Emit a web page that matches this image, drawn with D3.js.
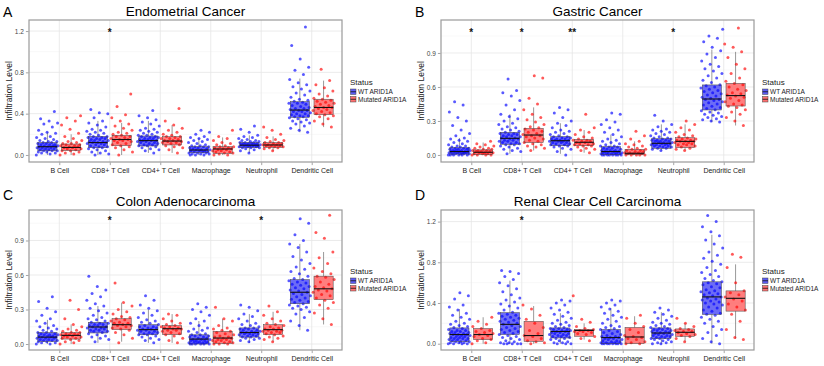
<!DOCTYPE html>
<html>
<head>
<meta charset="utf-8">
<script src="https://cdn.jsdelivr.net/npm/d3@7"></script>
<style>
  body { margin: 0; background: #fff; }
  svg { display: block; font-family: "Liberation Sans", Arial, Helvetica, sans-serif; }
</style>
</head>
<body>
<div id="chart"></div>
<script>
// cell types on the x axis
const cellTypes = ["B Cell", "CD8+ T Cell", "CD4+ T Cell", "Macrophage", "Neutrophil", "Dendritic Cell"];
const statusLabels = ["WT ARID1A", "Mutated ARID1A"];

// tick values
const ticks04 = [0, 0.4, 0.8, 1.2];
const minor04 = [0.2, 0.6, 1.0];
const ticks03 = [0, 0.3, 0.6, 0.9];
const minor03 = [0.15, 0.45, 0.75, 1.05];

// point values (hundredths), one array per cell type
// --- Endometrial Cancer
const endoWT = [
  [0,1,2,2,3,3,4,4,4,5,5,6,6,7,7,7,8,8,8,9,9,9,10,10,10,11,11,12,12,13,13,14,15,16,17,18,20,21,22,24,27,30,31,33,35,42],
  [0,1,2,3,4,5,6,7,7,8,8,9,10,10,11,11,12,12,12,13,13,14,14,15,15,16,16,17,17,18,18,19,20,21,22,23,24,25,27,29,31,33,36,40,41,44],
  [2,4,5,6,7,8,9,9,10,10,11,11,12,12,13,13,14,14,14,15,15,16,16,17,17,18,18,19,19,20,21,22,23,24,25,26,28,30,32,34,36,38,43],
  [0,0,0,1,1,1,2,2,2,3,3,3,4,4,4,5,5,5,6,6,7,7,8,8,8,9,9,10,11,12,13,14,15,16,17,18,20,22,24],
  [2,4,5,6,7,7,7,8,8,8,9,9,9,9,10,10,10,10,11,11,11,11,12,12,12,13,13,14,14,15,16,17,18,19,22,25,28],
  [22,24,26,28,30,31,32,33,34,35,36,37,37,38,38,39,40,40,41,42,42,43,43,44,45,45,46,47,48,49,50,50,51,52,53,54,56,58,60,62,64,66,68,70,73,78,82,85,93,106,124]
];
const endoMut = [
  [0,1,2,3,4,4,5,6,6,7,7,8,8,9,9,10,10,11,11,12,13,14,16,18,21,25,29,33,36,38],
  [0,3,5,7,8,9,10,11,12,13,14,14,15,15,16,17,18,18,19,20,21,22,24,26,28,30,33,36,39,47,59],
  [2,5,7,8,9,10,11,12,12,13,13,14,14,15,16,16,17,18,18,19,20,22,24,26,29,33,45],
  [0,0,1,2,2,3,3,4,4,5,5,6,6,7,7,8,8,9,10,11,12,14,16,18,24],
  [4,6,7,7,8,8,9,9,9,10,10,10,11,11,12,12,13,14,15,17,20,24,27],
  [27,30,33,35,37,38,39,40,41,42,43,44,45,46,46,47,48,49,50,51,52,53,54,55,57,59,62,65,68,72,83]
];
// box stats [lower whisker, q1, median, q3, upper whisker]
const endoWTBox = [[0,0.04,0.08,0.12,0.22],[0,0.07,0.12,0.18,0.33],[0.02,0.087,0.139,0.184,0.33],[0,0.023,0.048,0.08,0.165],[0.02,0.07,0.095,0.12,0.19],[0.22,0.365,0.435,0.516,0.74]];
const endoMutBox = [[0,0.042,0.073,0.106,0.2],[0,0.09,0.15,0.19,0.31],[0.02,0.097,0.135,0.177,0.29],[0,0.016,0.058,0.08,0.17],[0.04,0.074,0.097,0.12,0.18],[0.27,0.39,0.46,0.54,0.72]];
const endoStars = ["", "*", "", "", "", ""];

// --- Gastric Cancer
const gastWT = [
  [0,0,0,0,0,0,1,1,1,1,1,2,2,2,2,3,3,3,3,3,4,4,4,4,5,5,5,6,6,6,7,7,8,8,9,10,11,12,13,14,15,17,19,22,26,30,33,38,44,47],
  [1,3,4,5,6,7,8,9,9,10,10,11,11,12,12,13,13,14,14,15,15,16,16,17,17,18,18,19,19,20,21,22,23,24,25,27,28,30,32,34,36,40,44,48,52,55,57,67],
  [0,3,5,6,7,8,8,9,9,10,10,11,11,11,12,12,12,13,13,13,14,14,14,15,15,16,16,17,18,19,20,21,22,24,26,28,30,33,37,40,42],
  [0,0,0,0,0,0,0,0,1,1,1,1,1,2,2,2,2,3,3,3,4,4,4,5,5,6,6,7,7,8,8,9,10,11,12,13,14,16,18,20,22,24,27,29,31,36,37],
  [4,5,6,6,7,7,8,8,8,9,9,9,10,10,10,10,11,11,11,12,12,12,13,13,13,14,14,15,15,16,17,18,19,20,21,22,23,25,27,30,35],
  [29,30,31,32,33,34,35,36,37,38,39,40,41,42,43,44,45,46,47,48,49,49,50,51,52,53,54,55,56,57,58,59,60,61,62,64,66,68,70,72,74,76,78,80,83,86,89,92,95,100,103,105,111]
];
const gastMut = [
  [0,0,0,0,1,1,1,2,2,2,3,3,3,4,4,4,5,5,6,6,7,8,9,10,12],
  [4,6,7,8,9,10,11,12,13,14,15,16,17,17,18,19,20,21,22,23,24,25,27,29,31,33,36,40,45,50,68,70],
  [2,4,5,6,7,8,8,9,9,10,10,11,11,12,12,13,13,14,15,16,18,20,22,24,36],
  [0,0,0,0,0,1,1,1,2,2,2,3,3,4,4,5,5,6,7,8,9,10,12,14,17,21],
  [4,5,6,7,8,9,9,10,10,11,11,12,12,12,13,13,14,14,15,16,17,18,20,22,24,27,30],
  [26,30,33,36,38,40,42,43,44,45,47,48,50,51,52,53,54,55,57,58,60,62,63,65,68,72,76,80,86,91,95,98,112]
];
const gastWTBox = [[0,0.008,0.03,0.065,0.15],[0.01,0.094,0.147,0.2,0.36],[0.01,0.082,0.126,0.162,0.28],[0,0.003,0.03,0.074,0.18],[0.04,0.059,0.103,0.144,0.27],[0.29,0.397,0.494,0.618,0.93]];
const gastMutBox = [[0,0.003,0.024,0.045,0.11],[0.04,0.109,0.176,0.235,0.42],[0.02,0.082,0.112,0.138,0.22],[0,0.003,0.015,0.05,0.12],[0.04,0.065,0.12,0.153,0.27],[0.26,0.432,0.524,0.632,0.91]];
const gastStars = ["*", "*", "**", "", "*", ""];

// --- Colon Adenocarcinoma
const colWT = [
  [0,0,1,1,2,2,3,3,3,4,4,5,5,5,6,6,6,7,7,7,8,8,8,9,9,10,10,11,12,13,14,15,16,18,20,22,25,28,31,37,41],
  [2,4,5,6,7,8,9,10,11,11,12,12,13,13,14,14,15,15,16,16,17,17,18,18,19,20,21,22,23,25,27,29,31,33,35,38,41,44,47,50,59],
  [1,3,4,5,6,7,8,8,9,9,10,10,11,11,12,12,13,13,14,14,15,15,16,17,18,19,20,21,23,25,27,29,31,34,38,42],
  [0,0,0,0,0,0,1,1,1,1,2,2,2,3,3,3,4,4,4,5,5,6,6,7,7,8,8,9,10,11,12,13,14,16,18,20,22,25,28,30,32,35],
  [2,3,4,5,5,6,6,7,7,8,8,9,9,9,10,10,10,11,11,12,12,13,13,14,14,15,16,17,18,20,22,24,26,29,32,34],
  [12,16,20,23,26,28,30,31,32,33,34,35,36,37,38,39,40,41,42,43,44,45,46,47,48,49,50,51,52,53,54,55,56,57,59,61,63,65,67,70,73,76,80,84,87,90,95,105,109]
];
const colMut = [
  [0,1,2,3,4,5,5,6,6,7,7,8,8,8,9,9,10,10,11,12,13,15,17,22,30,38],
  [1,5,8,10,12,13,14,15,16,16,17,18,18,19,20,21,22,23,24,26,28,30,33,36,53],
  [1,3,5,7,8,9,10,11,12,12,13,13,14,14,15,15,16,17,18,20,22,25,26],
  [0,0,0,1,1,2,2,3,3,4,4,5,5,6,6,7,8,9,10,11,12,13,14,16,20,22,32],
  [2,4,5,6,7,8,9,10,10,11,11,12,12,13,13,14,15,16,17,18,20,22,25,28,33],
  [17,22,27,31,34,36,38,40,42,43,45,46,47,48,49,50,52,54,56,58,59,61,63,66,70,75,80,92,97,112]
];
const colWTBox = [[0,0.023,0.06,0.1,0.21],[0.01,0.096,0.148,0.188,0.33],[0.01,0.081,0.125,0.168,0.3],[0,0,0.043,0.08,0.2],[0.01,0.06,0.1,0.14,0.26],[0.12,0.35,0.45,0.56,0.87]];
const colMutBox = [[0,0.043,0.075,0.1,0.17],[0.02,0.125,0.168,0.22,0.36],[0.01,0.081,0.133,0.16,0.26],[0,0.005,0.052,0.11,0.22],[0.02,0.081,0.125,0.168,0.28],[0.17,0.385,0.48,0.59,0.8]];
const colStars = ["", "*", "", "", "*", ""];

// --- Renal Clear Cell Carcinoma
const renWT = [
  [0,0,0,0,1,1,1,2,2,2,3,3,4,4,5,5,5,6,6,7,7,8,8,9,9,9,10,10,11,11,12,12,13,13,14,15,16,17,18,19,20,22,24,26,28,30,33,36,38,44,47,50],
  [0,0,0,0,0,1,1,2,3,4,5,6,7,8,9,10,11,12,13,14,15,16,17,18,19,20,21,22,23,24,25,26,27,28,29,30,31,33,35,37,39,41,43,45,48,51,54,57,60,63,66,69,71,72],
  [0,0,0,1,1,2,3,4,5,5,6,7,7,8,8,9,9,10,10,11,11,12,12,13,13,14,14,15,15,16,17,18,19,20,21,23,25,27,29,31,33,35,38,40,42,43],
  [0,0,0,0,0,0,0,0,1,1,1,2,2,3,3,4,4,5,5,6,6,7,7,8,9,10,11,12,13,14,15,16,17,18,20,22,24,26,28,30,32,34,36,38,40,42,43],
  [0,0,1,1,2,3,4,4,5,5,6,6,7,7,8,8,9,9,10,10,11,11,12,12,13,13,14,14,15,15,16,17,18,19,20,21,23,25,27,29,31,33,35],
  [0,2,5,8,11,14,17,20,22,24,26,28,29,30,32,33,35,36,38,39,40,41,42,43,44,45,46,47,48,49,50,51,52,53,55,56,58,59,60,61,62,64,66,68,70,72,75,78,81,84,87,90,94,98,102,106,110,115,120,126]
];
const renMut = [
  [0,1,3,4,5,7,8,9,10,11,12,13,15,17,19,22,26],
  [0,1,2,3,5,7,8,10,13,16,20,24,28,34,38],
  [3,5,7,9,10,11,12,12,13,13,14,15,17,21,24,47],
  [0,0,1,2,4,5,6,7,8,11,14,17,20,25,28],
  [2,5,7,8,9,10,11,12,12,13,14,15,17,20,25],
  [4,6,14,22,29,33,36,39,42,44,46,48,50,52,60,75,85,88]
];
const renWTBox = [[0,0.023,0.09,0.155,0.34],[0,0.09,0.19,0.305,0.62],[0,0.056,0.12,0.155,0.3],[0,0,0.06,0.14,0.35],[0,0.05,0.105,0.155,0.31],[0,0.288,0.46,0.608,1.07]];
const renMutBox = [[0,0.04,0.09,0.149,0.26],[0,0.023,0.08,0.22,0.37],[0.04,0.073,0.13,0.14,0.2],[0,0,0.066,0.16,0.27],[0.02,0.073,0.112,0.145,0.2],[0.05,0.32,0.446,0.519,0.78]];
const renStars = ["", "*", "", "", "", ""];

// colours
const wtColor = "#0000ff", mutColor = "#ff0000";
const wtFill = "#5c5cf5", mutFill = "#ff7070";

const W = 824, H = 366;
const svg = d3.select("#chart").append("svg").attr("width", W).attr("height", H);

const panels = [
  { letter: "A", title: "Endometrial Cancer", x0: 0, y0: 0, top: 20, bottom: 162, dom: [-0.068, 1.307], ticks: ticks04, minor: minor04, wt: endoWT, mut: endoMut, wtBox: endoWTBox, mutBox: endoMutBox, stars: endoStars, starV: 1.2 },
  { letter: "B", title: "Gastric Cancer", x0: 412, y0: 0, top: 20, bottom: 162, dom: [-0.062, 1.191], ticks: ticks03, minor: minor03, wt: gastWT, mut: gastMut, wtBox: gastWTBox, mutBox: gastMutBox, stars: gastStars, starV: 1.097 },
  { letter: "C", title: "Colon Adenocarcinoma", x0: 0, y0: 183, top: 27, bottom: 167, dom: [-0.052, 1.165], ticks: ticks03, minor: minor03, wt: colWT, mut: colMut, wtBox: colWTBox, mutBox: colMutBox, stars: colStars, starV: 1.087 },
  { letter: "D", title: "Renal Clear Cell Carcinoma", x0: 412, y0: 183, top: 27, bottom: 167, dom: [-0.062, 1.314], ticks: ticks04, minor: minor04, wt: renWT, mut: renMut, wtBox: renWTBox, mutBox: renMutBox, stars: renStars, starV: 1.225 }
];

panels.forEach(drawPanel);

function drawPanel(p) {
  var left = 29, right = 342;
  var g = svg.append("g").attr("transform", "translate(" + p.x0 + "," + p.y0 + ")");

  var x = d3.scalePoint().domain(cellTypes).range([left, right]).padding(0.6);
  var step = x.step();
  var y = d3.scaleLinear().domain(p.dom).range([p.bottom, p.top]);

  // letter + title
  g.append("text").attr("x", 3).attr("y", 17).attr("font-size", 14).attr("fill", "#000").text(p.letter);
  g.append("text").attr("x", (left + right) / 2).attr("y", p.top - 4).attr("text-anchor", "middle")
    .attr("font-size", 13.5).attr("fill", "#000").text(p.title);

  // grid
  g.selectAll(".minor").data(p.minor).enter().append("line")
    .attr("x1", left).attr("x2", right).attr("y1", d => y(d)).attr("y2", d => y(d))
    .attr("stroke", "#f3f3f3").attr("stroke-width", 0.6);
  g.selectAll(".major").data(p.ticks).enter().append("line")
    .attr("x1", left).attr("x2", right).attr("y1", d => y(d)).attr("y2", d => y(d))
    .attr("stroke", "#e6e6e6").attr("stroke-width", 0.8);
  g.selectAll(".vgrid").data(cellTypes).enter().append("line")
    .attr("x1", d => x(d)).attr("x2", d => x(d)).attr("y1", p.top).attr("y2", p.bottom)
    .attr("stroke", "#e6e6e6").attr("stroke-width", 0.8);

  var boxW = step * 0.38, off = step * 0.235, jit = step * 0.44;

  function drawGroup(values, boxes, dx, color, fill) {
    cellTypes.forEach(function (c, ci) {
      var cx = x(c) + dx;
      var b = boxes[ci];
      // box fill
      g.append("rect").attr("x", cx - boxW / 2).attr("width", boxW)
        .attr("y", y(b[3])).attr("height", y(b[1]) - y(b[3]))
        .attr("fill", fill).attr("fill-opacity", 0.9);
      // whiskers
      g.append("line").attr("x1", cx).attr("x2", cx).attr("y1", y(b[4])).attr("y2", y(b[3]))
        .attr("stroke", "#555").attr("stroke-width", 0.6);
      g.append("line").attr("x1", cx).attr("x2", cx).attr("y1", y(b[1])).attr("y2", y(b[0]))
        .attr("stroke", "#555").attr("stroke-width", 0.6);
      // points
      g.selectAll(null).data(values[ci]).enter().append("circle")
        .attr("cx", (d, i) => cx + (((i * 0.6180339 + ci * 0.37) % 1) - 0.5) * jit)
        .attr("cy", d => y(d / 100))
        .attr("r", 1.5)
        .attr("fill", color).attr("fill-opacity", 0.65);
      // box outline + median
      g.append("rect").attr("x", cx - boxW / 2).attr("width", boxW)
        .attr("y", y(b[3])).attr("height", y(b[1]) - y(b[3]))
        .attr("fill", "none").attr("stroke", "#444").attr("stroke-width", 0.5);
      g.append("line").attr("x1", cx - boxW / 2).attr("x2", cx + boxW / 2)
        .attr("y1", y(b[2])).attr("y2", y(b[2]))
        .attr("stroke", "#111").attr("stroke-width", 1.1);
    });
  }
  drawGroup(p.wt, p.wtBox, -off, wtColor, wtFill);
  drawGroup(p.mut, p.mutBox, off, mutColor, mutFill);

  // significance stars
  g.selectAll(".star").data(cellTypes).enter().append("text")
    .attr("x", d => x(d)).attr("y", y(p.starV) + 5)
    .attr("text-anchor", "middle").attr("font-size", 10).attr("font-weight", "bold").attr("fill", "#111")
    .text((d, i) => p.stars[i]);

  // panel border
  g.append("rect").attr("x", left).attr("y", p.top).attr("width", right - left).attr("height", p.bottom - p.top)
    .attr("fill", "none").attr("stroke", "#9a9a9a").attr("stroke-width", 1.2);

  // axes
  var yAxis = g.append("g").attr("transform", "translate(" + (left - 0.6) + ",0)")
    .call(d3.axisLeft(y).tickValues(p.ticks).tickFormat(d3.format(".1f")).tickSize(2.5).tickPadding(2));
  var xAxis = g.append("g").attr("transform", "translate(0," + (p.bottom + 0.6) + ")")
    .call(d3.axisBottom(x).tickSize(2.5).tickPadding(3));
  [yAxis, xAxis].forEach(function (a) {
    a.select(".domain").remove();
    a.selectAll(".tick line").attr("stroke", "#666").attr("stroke-width", 0.6);
    a.selectAll("text").attr("font-family", null).attr("fill", "#444");
  });
  yAxis.selectAll("text").attr("font-size", 6.5);
  xAxis.selectAll("text").attr("font-size", 7).attr("fill", "#222");

  // y title
  g.append("text").attr("transform", "translate(12," + ((p.top + p.bottom) / 2) + ") rotate(-90)")
    .attr("text-anchor", "middle").attr("font-size", 8.5).attr("fill", "#222").text("Infiltration Level");

  // legend
  var mid = (p.top + p.bottom) / 2;
  var lg = g.append("g").attr("transform", "translate(350," + mid + ")");
  lg.append("text").attr("x", 0).attr("y", -6).attr("font-size", 8).attr("fill", "#222").text("Status");
  [[wtFill, wtColor], [mutFill, mutColor]].forEach(function (k, i) {
    var ky = -2 + i * 7.5;
    lg.append("rect").attr("x", 0.5).attr("y", ky).attr("width", 5.5).attr("height", 5.5)
      .attr("fill", k[0]).attr("stroke", "#444").attr("stroke-width", 0.5);
    lg.append("line").attr("x1", 0.5).attr("x2", 6).attr("y1", ky + 2.75).attr("y2", ky + 2.75)
      .attr("stroke", "#111").attr("stroke-width", 0.8);
    lg.append("text").attr("x", 8).attr("y", ky + 5).attr("font-size", 6.5).attr("fill", "#222").text(statusLabels[i]);
  });
}
</script>
</body>
</html>
